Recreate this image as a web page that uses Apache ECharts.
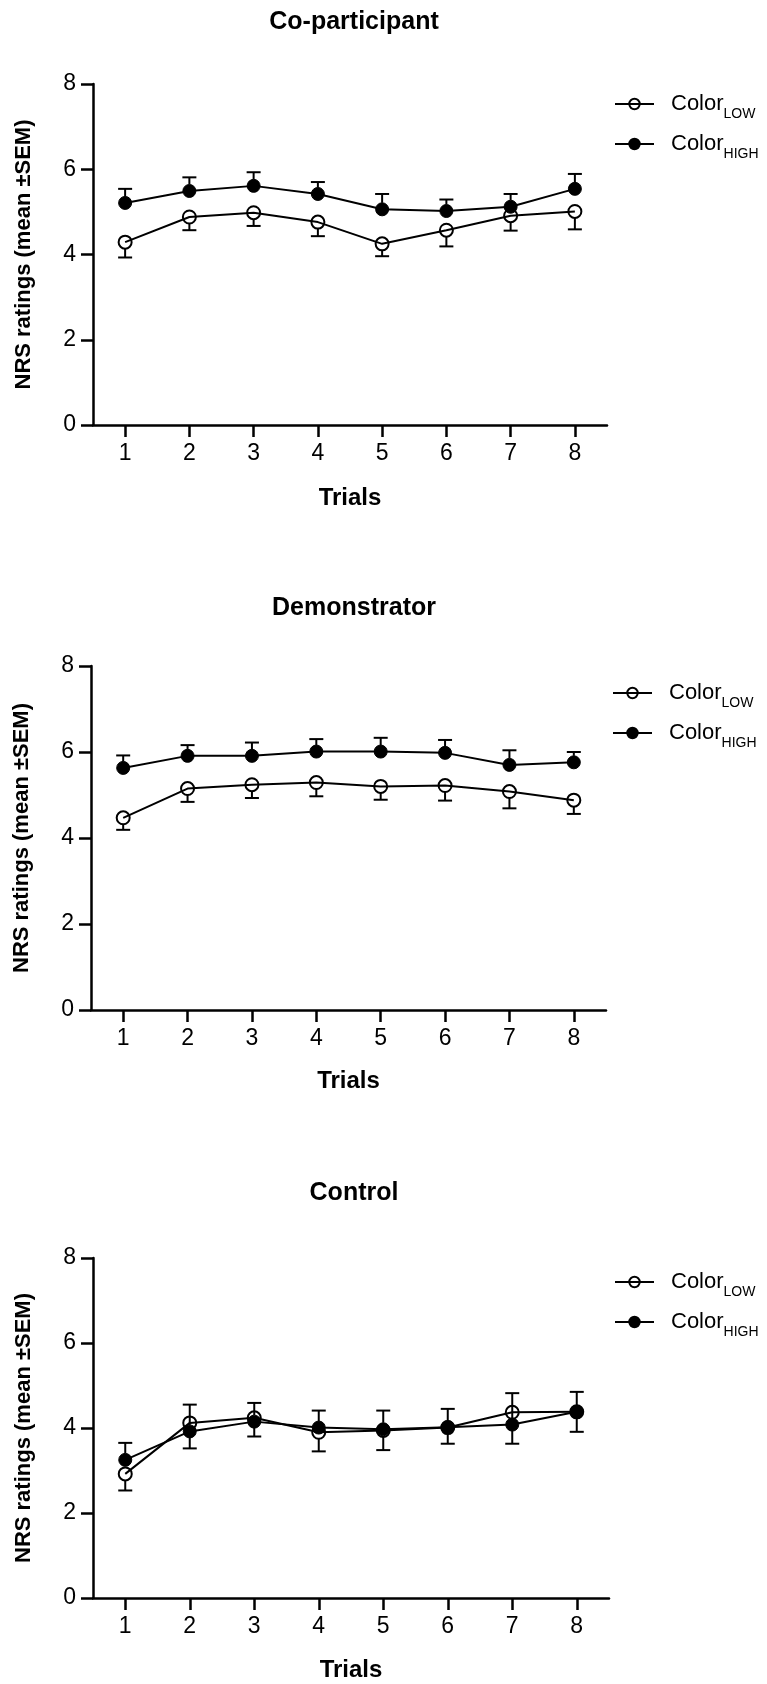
<!DOCTYPE html>
<html>
<head>
<meta charset="utf-8">
<script src="https://cdn.jsdelivr.net/npm/echarts@6/dist/echarts.min.js"></script>
<style>
html,body{margin:0;padding:0;background:#fff;}
#chart{width:767px;height:1684px;}
</style>
</head>
<body>
<div id="chart"></div>
<script>
// ---- data ----
const categories = ['1','2','3','4','5','6','7','8'];
const yTicks = [0, 2, 4, 6, 8];
const panelTitles = ['Co-participant', 'Demonstrator', 'Control'];
const seriesNames = ['LOW', 'HIGH'];

// Co-participant
const coLowMean  = [4.29, 4.88, 4.98, 4.76, 4.25, 4.57, 4.91, 5.01];
const coLowSem   = [0.36, 0.31, 0.31, 0.33, 0.29, 0.38, 0.35, 0.42];
const coHighMean = [5.21, 5.49, 5.61, 5.42, 5.06, 5.02, 5.12, 5.54];
const coHighSem  = [0.33, 0.32, 0.32, 0.28, 0.36, 0.27, 0.30, 0.35];

// Demonstrator
const deLowMean  = [4.47, 5.15, 5.24, 5.29, 5.20, 5.22, 5.08, 4.88];
const deLowSem   = [0.28, 0.31, 0.31, 0.32, 0.31, 0.35, 0.39, 0.32];
const deHighMean = [5.63, 5.91, 5.91, 6.01, 6.01, 5.98, 5.70, 5.76];
const deHighSem  = [0.29, 0.25, 0.31, 0.29, 0.32, 0.30, 0.34, 0.24];

// Control
const ctLowMean  = [2.92, 4.12, 4.24, 3.90, 3.94, 4.01, 4.37, 4.38];
const ctLowSem   = [0.39, 0.60, 0.44, 0.45, 0.46, 0.38, 0.74, 0.47];
const ctHighMean = [3.25, 3.92, 4.15, 4.01, 3.97, 4.02, 4.08, 4.38];
const ctHighSem  = [0.40, 0.63, 0.44, 0.40, 0.44, 0.43, 0.74, 0.47];

const panels = [
  {low: coLowMean, lowSem: coLowSem, high: coHighMean, highSem: coHighSem},
  {low: deLowMean, lowSem: deLowSem, high: deHighMean, highSem: deHighSem},
  {low: ctLowMean, lowSem: ctLowSem, high: ctHighMean, highSem: ctHighSem}
];

// ---- layout ----
const grids = [
  {left: 93, top: 84, width: 514, height: 341},
  {left: 91, top: 666, width: 515, height: 344},
  {left: 93, top: 1258, width: 516, height: 340}
];
const titleTops = [5, 591, 1176];
const legendTops = [93, 682, 1271];
const legendLefts = [614, 612, 614];
const trialsGap = [61, 59, 60];

const SANS = "'Liberation Sans', Arial, Helvetica, sans-serif";
const R = 6.5;

function errRender(dir) {
  return function (params, api) {
    const x = api.value(0), m = api.value(1), s = api.value(2);
    const p0 = api.coord([x, m]);
    const p1 = api.coord([x, m + dir * s]);
    const startY = p0[1] - dir * R;
    const cw = 7;
    return {
      type: 'group',
      children: [
        {type: 'line', shape: {x1: p0[0], y1: startY, x2: p0[0], y2: p1[1]}, style: {stroke: '#000', lineWidth: 2}},
        {type: 'line', shape: {x1: p0[0] - cw, y1: p1[1], x2: p0[0] + cw, y2: p1[1]}, style: {stroke: '#000', lineWidth: 2}}
      ]
    };
  };
}

const option = {
  backgroundColor: '#fff',
  animation: false,
  title: panelTitles.map((t, i) => ({
    text: t, left: 349, top: titleTops[i], textAlign: 'center',
    textStyle: {fontFamily: SANS, fontWeight: 'bold', fontSize: 25, color: '#000'}
  })),
  legend: panels.map((p, i) => ({
    orient: 'vertical', left: legendLefts[i], top: legendTops[i], padding: 0,
    itemWidth: 39, itemHeight: 13, itemGap: 12,
    data: seriesNames,
    formatter: n => '{a|Color}{b|' + n + '}',
    textStyle: {
      color: '#000',
      rich: {
        a: {fontFamily: SANS, fontSize: 22, color: '#000', padding: [0, 0, 0, 12], lineHeight: 26},
        b: {fontFamily: SANS, fontSize: 14, color: '#000', verticalAlign: 'bottom', lineHeight: 14, padding: [0, 0, -4, 0]}
      }
    }
  })),
  grid: grids,
  xAxis: grids.map((g, i) => ({
    type: 'category', gridIndex: i, data: categories, boundaryGap: true,
    name: 'Trials', nameLocation: 'middle', nameGap: trialsGap[i],
    nameTextStyle: {fontFamily: SANS, fontWeight: 'bold', fontSize: 24, color: '#000'},
    axisLine: {lineStyle: {color: '#000', width: 2.5}},
    axisTick: {show: true, alignWithLabel: true, length: 12, lineStyle: {color: '#000', width: 2.5}},
    axisLabel: {fontFamily: SANS, fontSize: 23, color: '#000', margin: 17},
    splitLine: {show: false}
  })),
  yAxis: grids.map((g, i) => ({
    type: 'value', gridIndex: i, min: yTicks[0], max: yTicks[yTicks.length - 1], interval: 2,
    name: 'NRS ratings (mean \u00B1SEM)', nameLocation: 'middle', nameRotate: 90, nameGap: 58,
    nameTextStyle: {fontFamily: SANS, fontWeight: 'bold', fontSize: 22, color: '#000'},
    axisLine: {show: true, lineStyle: {color: '#000', width: 2.5}},
    axisTick: {show: true, length: 12, lineStyle: {color: '#000', width: 2.5}},
    axisLabel: {fontFamily: SANS, fontSize: 23, color: '#000', margin: 17},
    splitLine: {show: false}
  })),
  series: []
};

panels.forEach((p, i) => {
  option.series.push({
    type: 'custom', name: 'errLow' + i, xAxisIndex: i, yAxisIndex: i, z: 1,
    renderItem: errRender(-1),
    data: p.low.map((v, k) => [k, v, p.lowSem[k]])
  });
  option.series.push({
    type: 'custom', name: 'errHigh' + i, xAxisIndex: i, yAxisIndex: i, z: 1,
    renderItem: errRender(1),
    data: p.high.map((v, k) => [k, v, p.highSem[k]])
  });
  option.series.push({
    type: 'line', name: 'LOW', xAxisIndex: i, yAxisIndex: i, z: 3,
    data: p.low, symbol: 'circle', symbolSize: 13, color: '#000',
    lineStyle: {color: '#000', width: 2},
    itemStyle: {color: 'rgba(255,255,255,0)', borderColor: '#000', borderWidth: 2}
  });
  option.series.push({
    type: 'line', name: 'HIGH', xAxisIndex: i, yAxisIndex: i, z: 4,
    data: p.high, symbol: 'circle', symbolSize: 13, color: '#000',
    lineStyle: {color: '#000', width: 2},
    itemStyle: {color: '#000', borderColor: '#000', borderWidth: 1}
  });
});

const chart = echarts.init(document.getElementById('chart'), null, {renderer: 'canvas'});
chart.setOption(option);
</script>
</body>
</html>
